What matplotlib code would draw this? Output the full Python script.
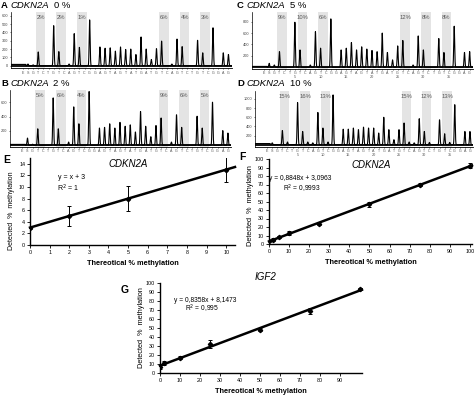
"""Pyrosequencing traces (A-D) and methylation standard curves (E-G)."""
import matplotlib
matplotlib.use("Agg")
import matplotlib.pyplot as plt
import numpy as np

plt.rcParams["font.family"] = ["Liberation Sans", "DejaVu Sans"]

# ---- pyrogram data -------------------------------------------------------
DISPENSATION = list("ESGTCTGTCAGTCGGAGTAGTATGATGTCAGTCTGTCGGAG")
CPG_T_POS = [3, 7, 11, 27, 31, 35]          # T of each CpG (shaded pair T/C)
POS_NUMBERS = [5, 10, 15, 20, 25, 30, 35]
POS_NUMBER_AT = [6, 11, 16, 21, 26, 31, 36]

peaks_a = [0, 20, 10, 165, 0, 0, 480, 170, 0, 20, 385, 220, 0, 550, 0, 225, 210,
           215, 175, 225, 195, 200, 135, 345, 200, 75, 205, 295, 0, 20, 320, 230,
           0, 0, 305, 155, 0, 455, 0, 155, 135]
peaks_b = [0, 100, 15, 230, 0, 0, 660, 230, 0, 45, 535, 300, 0, 750, 0, 240, 250,
           300, 240, 320, 265, 285, 185, 470, 265, 120, 275, 380, 0, 45, 425, 250,
           0, 0, 405, 240, 0, 600, 0, 205, 170]
peaks_c = [0, 70, 40, 275, 0, 0, 790, 305, 0, 40, 625, 335, 0, 850, 0, 305, 335,
           435, 305, 360, 320, 295, 275, 600, 260, 130, 375, 470, 0, 40, 550, 305,
           0, 0, 505, 260, 0, 720, 0, 260, 275]
peaks_d = [0, 40, 0, 310, 60, 0, 920, 290, 60, 40, 705, 365, 60, 1090, 0, 340, 340,
           365, 330, 385, 365, 365, 255, 600, 330, 110, 330, 475, 60, 40, 570, 290,
           50, 0, 545, 240, 50, 875, 0, 290, 290]

pct_a = ["2%", "2%", "1%", "6%", "4%", "3%"]
pct_b = ["5%", "6%", "4%", "9%", "6%", "5%"]
pct_c = ["9%", "10%", "6%", "12%", "8%", "8%"]
pct_d = ["15%", "16%", "13%", "15%", "12%", "13%"]

ticks_a = [0, 100, 200, 300, 400, 500, 600]
ticks_b = [200, 400, 600]
ticks_c = [200, 400, 600, 800]
ticks_d = [200, 400, 600, 800, 1000]

# ---- standard curve data -------------------------------------------------
e_x = [0, 2, 5, 10]
e_y = [3, 5, 8, 13]
e_err = [0.3, 1.7, 2.1, 2.2]
e_fit = (1.0, 3.0)

f_x = [0, 2, 5, 10, 25, 50, 75, 100]
f_y = [3, 5, 8, 13, 24, 46.5, 70, 92]
f_err = [1, 1.5, 1.5, 2, 1.5, 3.5, 1.5, 3]
f_fit = (0.8848, 3.0963)

g_x = [0, 2, 10, 25, 50, 75, 100]
g_y = [7, 11, 17, 32, 48, 69, 93]
g_err = [3, 2, 1.5, 4.5, 1.5, 3, 1]
g_fit = (0.8358, 8.1473)

W, H = 475, 399


def px_axes(fig, left, top, right, bottom):
    return fig.add_axes([left / W, 1 - bottom / H, (right - left) / W, (bottom - top) / H])


def plot_pyrogram(ax, heights, pcts, yticks, ylim, numbers=False):
    xs = np.linspace(-2.4, 40.6, 6000)
    trace = np.zeros_like(xs)
    for i, h in enumerate(heights):
        trace += h * np.exp(-0.5 * ((xs - i) / 0.09) ** 2)
    trace[xs < 0.6] -= ylim[0] * 0.5
    for t, label in zip(CPG_T_POS, pcts):
        ax.axvspan(t - 0.45, t + 1.4, color="#e4e4e4", lw=0, zorder=0)
        ax.text(t + 0.5, ylim[1] * 0.9, label, fontsize=4.2, color="#555555",
                ha="center", va="center")
    ax.plot(xs, trace, color="black", lw=0.8)
    ax.axhline(0, color="black", lw=1.3)
    ax.set_xlim(-2.4, 40.6)
    ax.set_ylim(*ylim)
    ax.set_xticks(range(len(DISPENSATION)))
    ax.set_xticklabels(DISPENSATION, fontsize=2.6, color="#555555")
    ax.set_yticks(yticks)
    ax.set_yticklabels([str(v) for v in yticks], fontsize=2.8, color="#444444")
    ax.tick_params(length=1, width=0.4, pad=0.8)
    for side in ("top", "right"):
        ax.spines[side].set_visible(False)
    ax.spines["left"].set_linewidth(0.5)
    ax.spines["bottom"].set_linewidth(0.6)
    ax.patch.set_alpha(0)
    if numbers:
        for n, p in zip(POS_NUMBERS, POS_NUMBER_AT):
            ax.text(p, -0.1, str(n), fontsize=2.8, color="#555555", ha="center",
                    va="top", transform=ax.get_xaxis_transform())


def plot_curve(ax, x, y, err, fit, xlim, ylim, xticks, yticks, ylabel_y=0.5, ylabel_size=5.3):
    slope, intercept = fit
    ax.errorbar(x, y, yerr=err, fmt="D", ms=2.2, color="black", ecolor="black",
                elinewidth=0.7, capsize=1.6, capthick=0.7, zorder=3)
    xx = np.array([0, xlim[1]])
    ax.plot(xx, slope * xx + intercept, color="black", lw=1.8, clip_on=False)
    ax.set_xlim(*xlim)
    ax.set_ylim(*ylim)
    ax.set_xticks(xticks)
    ax.set_yticks(yticks)
    ax.tick_params(labelsize=3.9, length=2, width=0.6, pad=1.5)
    for side in ("top", "right"):
        ax.spines[side].set_visible(False)
    ax.spines["left"].set_linewidth(1.0)
    ax.spines["bottom"].set_linewidth(1.0)
    ax.set_xlabel("Thereotical % methylation", fontsize=5.3, fontweight="bold", labelpad=4)
    ax.set_ylabel("Detected  %  methylation", fontsize=ylabel_size, labelpad=3)
    ax.yaxis.set_label_coords(-0.075, ylabel_y)


def title(fig, x, y, letter, gene, pct):
    renderer = fig.canvas.get_renderer()
    t = fig.text(x / W, 1 - y / H, letter, fontsize=6.8, fontweight="bold", va="center")
    x_next = t.get_window_extent(renderer).x1 + 3
    t = fig.text(x_next / W, 1 - y / H, gene, fontsize=6.8, style="italic", va="center")
    x_next = t.get_window_extent(renderer).x1 + 4
    fig.text(x_next / W, 1 - y / H, pct, fontsize=6.8, va="center")


def main():
    fig = plt.figure(figsize=(W / 100, H / 100), dpi=100)

    ax_a = px_axes(fig, 10.5, 11.7, 231.5, 68.3)
    plot_pyrogram(ax_a, peaks_a, pct_a, ticks_a, (-31, 648))
    ax_b = px_axes(fig, 10, 90, 231, 147)
    plot_pyrogram(ax_b, peaks_b, pct_b, ticks_b, (-24, 770))
    ax_c = px_axes(fig, 251.7, 11.7, 472.7, 69)
    plot_pyrogram(ax_c, peaks_c, pct_c, ticks_c, (-30, 975), numbers=True)
    ax_d = px_axes(fig, 255, 91.3, 473, 147)
    plot_pyrogram(ax_d, peaks_d, pct_d, ticks_d, (-50, 1168), numbers=True)

    title(fig, 1, 5, "A", "CDKN2A", "0 %")
    title(fig, 1, 83, "B", "CDKN2A", "2 %")
    title(fig, 237, 5, "C", "CDKN2A", "5 %")
    title(fig, 237, 84, "D", "CDKN2A", "10 %")

    ax_e = px_axes(fig, 30, 158, 235, 245)
    plot_curve(ax_e, e_x, e_y, e_err, e_fit, (0, 10.45), (0, 15),
               range(0, 11), range(0, 15, 2), ylabel_y=0.4, ylabel_size=5.0)
    ax_e.text(5, 13.9, "CDKN2A", fontsize=7, style="italic", ha="center", va="center")
    ax_e.text(2.1, 11.7, "y = x + 3", fontsize=5, ha="center", va="center")
    ax_e.text(1.95, 9.8, "R$^2$ = 1", fontsize=5, ha="center", va="center")

    ax_f = px_axes(fig, 269, 159, 472, 244)
    plot_curve(ax_f, f_x, f_y, f_err, f_fit, (0, 101), (0, 100),
               range(0, 101, 10), range(0, 101, 10), ylabel_y=0.45)
    ax_f.text(51, 93, "CDKN2A", fontsize=7, style="italic", ha="center", va="center")
    ax_f.text(15.5, 77.6, "y = 0,8848x + 3,0963", fontsize=4.8, ha="center", va="center")
    ax_f.text(16.4, 64.7, "R$^2$ = 0,9993", fontsize=4.8, ha="center", va="center")

    ax_g = px_axes(fig, 160, 283, 362, 373)
    plot_curve(ax_g, g_x, g_y, g_err, g_fit, (0, 101), (0, 100),
               range(0, 91, 10), range(0, 101, 10))
    fig.text(265 / W, 1 - 277 / H, "IGF2", fontsize=7, style="italic", ha="center", va="center")
    ax_g.text(22.5, 81, "y = 0,8358x + 8,1473", fontsize=4.8, ha="center", va="center")
    ax_g.text(21, 71, "R$^2$ = 0,995", fontsize=4.8, ha="center", va="center")

    for letter, x, y in [("E", 3, 160), ("F", 239, 157), ("G", 121, 290)]:
        fig.text(x / W, 1 - y / H, letter, fontsize=7.5, fontweight="bold", va="center")

    fig.savefig("out.png", dpi=100)
    plt.close(fig)


if __name__ == "__main__":
    main()
